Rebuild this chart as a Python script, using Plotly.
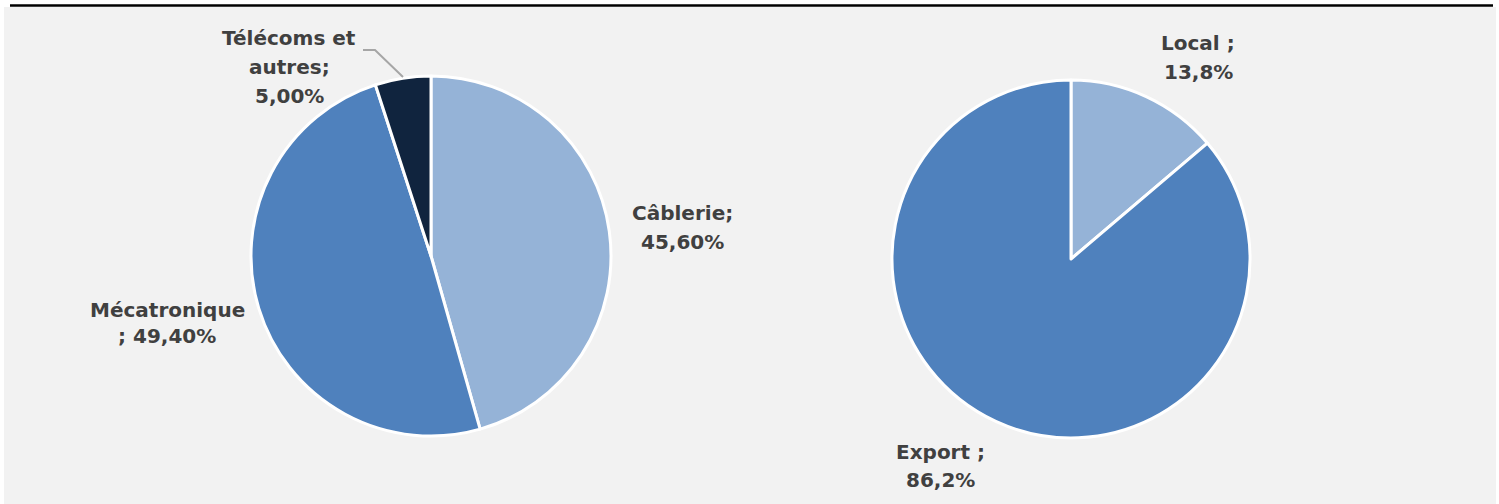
import plotly.graph_objects as go

W, H = 1499, 504

# Data
sector_labels = ["Câblerie", "Mécatronique", "Télécoms et autres"]
sector_values = [45.6, 49.4, 5.0]
sector_text = [["Câblerie;", "45,60%"], ["Mécatronique", "; 49,40%"], ["Télécoms et", "autres;", "5,00%"]]

market_labels = ["Local", "Export"]
market_values = [13.8, 86.2]
market_text = [["Local ;", "13,8%"], ["Export ;", "86,2%"]]

sector_colors = ["#95B3D7", "#4F81BD", "#10243E"]
market_colors = ["#95B3D7", "#4F81BD"]

def px_dom(x0, x1, y0, y1):
    return dict(x=[x0 / W, x1 / W], y=[1 - y1 / H, 1 - y0 / H])

fig = go.Figure()
fig.add_trace(go.Pie(
    labels=sector_labels, values=sector_values, sort=False, direction="clockwise",
    rotation=0, textinfo="none", hoverinfo="label+percent",
    marker=dict(colors=sector_colors, line=dict(color="white", width=3)),
    domain=px_dom(251, 611, 76, 436), showlegend=False,
))
fig.add_trace(go.Pie(
    labels=market_labels, values=market_values, sort=False, direction="clockwise",
    rotation=0, textinfo="none", hoverinfo="label+percent",
    marker=dict(colors=market_colors, line=dict(color="white", width=3)),
    domain=px_dom(892, 1250, 80, 438), showlegend=False,
))

# label positions (pixel centres of each text line)
label_pos = {
    "Câblerie": (682, [213, 242]),
    "Mécatronique": (167, [310, 336]),
    "Télécoms et autres": (289, [38, 67, 96]),
    "Local": (1198, [43, 72]),
    "Export": (940, [452, 480]),
}

annotations = []
for lab, lines in list(zip(sector_labels, sector_text)) + list(zip(market_labels, market_text)):
    cx, ys = label_pos[lab]
    for line, y in zip(lines, ys):
        annotations.append(dict(
            x=cx / W, y=1 - y / H, xref="paper", yref="paper", text="<b>%s</b>" % line,
            showarrow=False, xanchor="center", yanchor="middle",
            font=dict(family="DejaVu Sans", size=20, color="#404040"),
        ))

shapes = [
    dict(type="rect", xref="paper", yref="paper", x0=4 / W, x1=1496 / W, y0=0, y1=1 - 7 / H,
         fillcolor="#F2F2F2", line=dict(width=0), layer="below"),
    dict(type="line", xref="paper", yref="paper", x0=10 / W, x1=1493 / W, y0=1 - 5.5 / H, y1=1 - 5.5 / H,
         line=dict(color="black", width=2.5)),
    dict(type="path", xref="paper", yref="paper",
         path="M %f %f L %f %f L %f %f" % (363 / W, 1 - 50 / H, 375 / W, 1 - 50 / H, 403 / W, 1 - 77 / H),
         line=dict(color="#A6A6A6", width=2)),
]

fig.update_layout(
    width=W, height=H, margin=dict(l=0, r=0, t=0, b=0),
    paper_bgcolor="white", plot_bgcolor="white",
    annotations=annotations, shapes=shapes,
)

fig.write_html("out.html")
